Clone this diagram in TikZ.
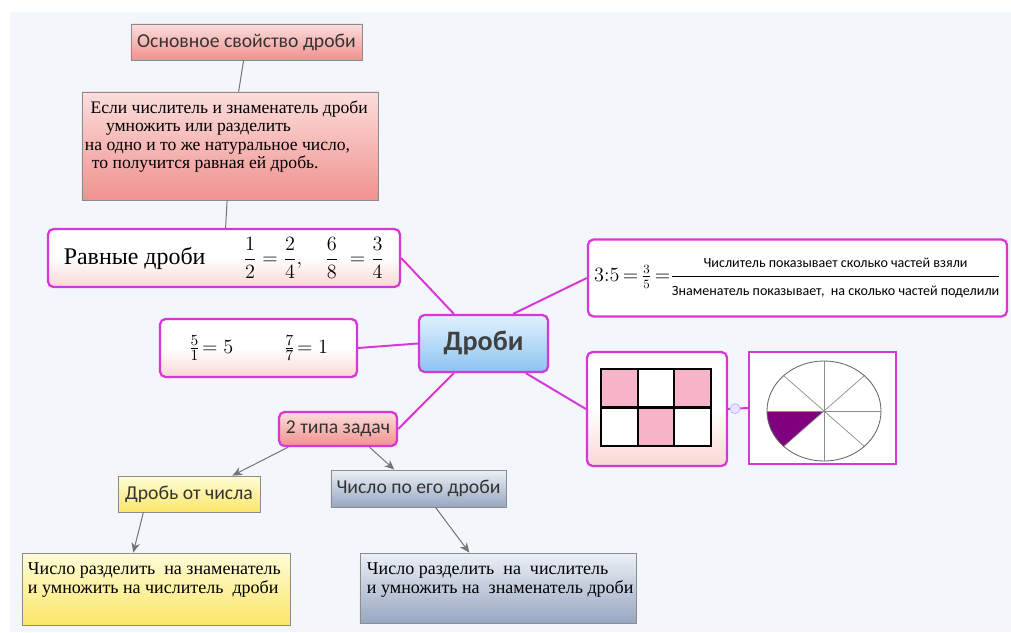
\documentclass[tikz,border=0pt]{standalone}
\usepackage{fontspec}
\usepackage{amsmath}
\setmainfont{Liberation Serif}
\newfontfamily\calibri{Carlito}
\usetikzlibrary{arrows.meta}

\definecolor{mg}{RGB}{215,55,215}
\definecolor{paper}{RGB}{243,246,250}
\definecolor{pinkrim}{RGB}{250,215,212}
\definecolor{pinktop}{RGB}{251,222,220}
\definecolor{pinkbot}{RGB}{240,145,142}
\definecolor{bluetop}{RGB}{226,241,255}
\definecolor{bluebot}{RGB}{140,195,240}
\definecolor{yeltop}{RGB}{255,252,215}
\definecolor{yelbot}{RGB}{250,230,105}
\definecolor{slatetop}{RGB}{236,240,247}
\definecolor{slatebot}{RGB}{152,166,192}
\definecolor{pinkcell}{RGB}{247,180,200}
\definecolor{plum}{RGB}{128,0,128}

\begin{document}
\begin{tikzpicture}[x=0.025cm,y=-0.025cm,
	mbox/.style={draw=mg, line width=1.6pt, rounded corners=4pt, inner sep=0pt},
	gbox/.style={draw=black!45, line width=0.6pt, inner sep=0pt},
	glow/.style={top color=white, bottom color=pinkrim, middle color=white},
	pinkfill/.style={top color=pinktop, bottom color=pinkbot},
	sans/.style={font=\calibri\fontsize{14}{16}\selectfont, text=black!80},
	link/.style={mg, line width=1.4pt},
	twig/.style={black!55, line width=0.7pt},
	arr/.style={twig, -{Stealth[length=7pt,width=6pt]}}]

	% background
	\fill[white] (0,0) rectangle (1011,632);
	\fill[paper] (10,12) rectangle (1011,632);
	\useasboundingbox (0,0) rectangle (1011,632);

	% property of a fraction
	\node[gbox, pinkfill, sans, minimum width=5.775cm, minimum height=0.9cm] (prop) at (246.5,42) {Основное свойство дроби};
	\node[gbox, pinkfill, minimum width=7.4cm, minimum height=2.7cm] (rule) at (230,146)
		{\parbox[c][2.25cm][t]{7.25cm}{\fontsize{12.5}{13}\selectfont\raggedright
		\mbox{\hspace*{4pt}Если числитель и знаменатель дроби}\\
		\mbox{\hspace*{15pt}умножить или разделить}\\
		\mbox{на одно и то же натуральное число,}\\
		\mbox{\hspace*{5pt}то получится равная ей дробь.}}};
	\node[mbox, glow, minimum width=8.8cm, minimum height=1.45cm] (equal) at (224,258)
		{{\fontsize{17}{19}\selectfont Равные дроби}\hspace{27pt}{\fontsize{14}{16}\selectfont$\dfrac{1}{2}=\dfrac{2}{4},\quad\dfrac{6}{8}\;=\dfrac{3}{4}$}\hspace{8pt}};
	\node[mbox, glow, minimum width=4.925cm, minimum height=1.45cm, font=\fontsize{15}{17}\selectfont] (five) at (258.5,348)
		{$\frac{5}{1}\!=5$\hspace{36pt}$\frac{7}{7}\!=1$};

	% centre
	\node[mbox, top color=bluetop, bottom color=bluebot, minimum width=3.225cm, minimum height=1.425cm,
		font=\calibri\bfseries\fontsize{20}{22}\selectfont, text=black!75] (root) at (483.5,343.5) {Дроби};

	% right side
	\node[mbox, fill=white, minimum width=10.475cm, minimum height=1.925cm, font=\fontsize{13.5}{15}\selectfont] (ratio) at (797.5,278)
		{$3{:}5\,{=}\,\frac{3}{5}\,{=}\genfrac{}{}{1pt}{0}{\text{\calibri\fontsize{10}{12}\selectfont Числитель показывает сколько частей взяли}}{\text{\calibri\fontsize{10}{12}\selectfont Знаменатель показывает, \ на сколько частей поделили}}$};
	\node[mbox, glow, minimum width=3.5cm, minimum height=2.85cm] (grid) at (657,409) {};
	\node[draw=mg, line width=1.6pt, fill=white, minimum width=3.675cm, minimum height=2.8cm] (circ) at (822.5,408) {};

	\foreach \x/\y/\c in {601/369/pinkcell, 638/369/white, 674/369/pinkcell, 601/408/white, 638/408/pinkcell, 674/408/white}
		\draw[fill=\c, line width=0.8pt] (\x,\y) rectangle ++(37,38);

	\coordinate (hub) at (824,411);
	\fill[plum] (hub) -- ++(180:1.425cm and 1.25cm) arc[start angle=180, end angle=225, x radius=1.425cm, y radius=1.25cm] -- cycle;
	\foreach \a in {0,45,...,315}
		\draw[black!45, line width=0.5pt] (hub) -- ++(\a:1.425cm and 1.25cm);
	\draw[black!60, line width=0.6pt] (hub) ellipse [x radius=1.425cm, y radius=1.25cm];

	% two kinds of problems
	\node[mbox, pinkfill, sans, minimum width=2.95cm, minimum height=0.85cm] (two) at (338,429) {2 типа задач};
	\node[gbox, top color=yeltop, bottom color=yelbot, sans, minimum width=3.55cm, minimum height=0.9cm] (part) at (189,494) {Дробь от числа};
	\node[gbox, top color=slatetop, bottom color=slatebot, sans, minimum width=4.375cm, minimum height=0.925cm] (whole) at (418.5,488.5) {Число по его дроби};
	\node[gbox, top color=yeltop, bottom color=yelbot, minimum width=6.7cm, minimum height=1.8cm] (partrule) at (156,589)
		{\parbox[c][1.3cm][t]{6.4cm}{\fontsize{12.8}{13.5}\selectfont\raggedright
		\mbox{Число разделить \ на знаменатель}\\
		\mbox{и умножить на числитель \ дроби}}};
	\node[gbox, top color=slatetop, bottom color=slatebot, minimum width=6.9cm, minimum height=1.75cm] (wholerule) at (498,588)
		{\parbox[c][1.25cm][t]{6.55cm}{\fontsize{12.8}{13.5}\selectfont\raggedright
		\mbox{Число разделить \ на \ числитель}\\
		\mbox{и умножить на \ знаменатель дроби}}};

	% connectors
	\draw[twig] (prop) -- (rule);
	\draw[twig] (rule) -- (equal);
	\draw[link] (equal.east) -- (root.135);
	\draw[link] (five.east) -- (root.west);
	\draw[link] (root.45) -- (ratio.west);
	\draw[link] (root.-35) -- (grid.west);
	\draw[link] (root.-135) -- (two.east);
	\draw[link] (grid.east) -- (circ.west) node[pos=0.35, circle, draw=blue!25, fill=blue!10, inner sep=2.5pt, line width=0.6pt] (knob) {};
	\draw[arr] (two.200) -- (part.23);
	\draw[arr] (two.-30) -- (whole.142);
	\draw[arr] (part.202) -- (partrule.122);
	\draw[arr] (whole.312) -- (wholerule.129);
\end{tikzpicture}
\end{document}
